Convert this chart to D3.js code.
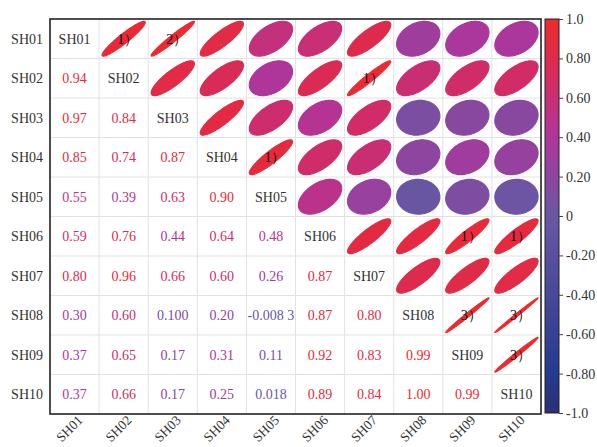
<!DOCTYPE html>
<html>
<head>
<meta charset="utf-8">
<script src="https://cdn.jsdelivr.net/npm/d3@7"></script>
<style>
  body { margin: 0; background: #fff; }
  text { font-family: "Liberation Serif", "Times New Roman", serif; }
</style>
</head>
<body>
<div id="chart"></div>
<script>
const W = 597, H = 447;
const marginLeft = 50, marginTop = 19, plotRight = 541, plotBottom = 414;

const names = ["SH01", "SH02", "SH03", "SH04", "SH05", "SH06", "SH07", "SH08", "SH09", "SH10"];

// lower triangle, row i has i values (columns 0..i-1)
const corrRows = [
  [],
  [0.94],
  [0.97, 0.84],
  [0.85, 0.74, 0.87],
  [0.55, 0.39, 0.63, 0.90],
  [0.59, 0.76, 0.44, 0.64, 0.48],
  [0.80, 0.96, 0.66, 0.60, 0.26, 0.87],
  [0.30, 0.60, 0.100, 0.20, -0.0083, 0.87, 0.80],
  [0.37, 0.65, 0.17, 0.31, 0.11, 0.92, 0.83, 0.99],
  [0.37, 0.66, 0.17, 0.25, 0.018, 0.89, 0.84, 1.00, 0.99]
];
const corrText = [
  [],
  ["0.94"],
  ["0.97", "0.84"],
  ["0.85", "0.74", "0.87"],
  ["0.55", "0.39", "0.63", "0.90"],
  ["0.59", "0.76", "0.44", "0.64", "0.48"],
  ["0.80", "0.96", "0.66", "0.60", "0.26", "0.87"],
  ["0.30", "0.60", "0.100", "0.20", "-0.008 3", "0.87", "0.80"],
  ["0.37", "0.65", "0.17", "0.31", "0.11", "0.92", "0.83", "0.99"],
  ["0.37", "0.66", "0.17", "0.25", "0.018", "0.89", "0.84", "1.00", "0.99"]
];

// group marks written over some ellipses: [row, col, text]
const groupMarks = [
  [0, 1, "1）"], [0, 2, "2）"], [1, 6, "1）"], [3, 4, "1）"],
  [5, 8, "1）"], [5, 9, "1）"], [7, 8, "3）"], [7, 9, "3）"], [8, 9, "3）"]
];

const colorStops = [-1, -0.8, 0, 0.4, 0.7, 1];
const colorRange = ["#2b2f77", "#243b90", "#6a56a3", "#b0359b", "#d62b5e", "#ee2a2c"];
const cbTicks = [1, 0.8, 0.6, 0.4, 0.2, 0, -0.2, -0.4, -0.6, -0.8, -1];
const cbTickLabels = ["1.0", "0.80", "0.60", "0.40", "0.20", "0", "-0.20", "-0.40", "-0.60", "-0.80", "-1.0"];

const svg = d3.select("#chart").append("svg")
  .attr("width", W)
  .attr("height", H);

const x = d3.scaleBand().domain(names).range([marginLeft, plotRight]);
const y = d3.scaleBand().domain(names).range([marginTop, plotBottom]);
const color = d3.scaleLinear().domain(colorStops).range(colorRange);

// grid
const grid = svg.append("g").attr("stroke", "#e2e2e2").attr("stroke-width", 1);
names.slice(1).forEach(n => {
  grid.append("line").attr("x1", x(n)).attr("x2", x(n)).attr("y1", marginTop).attr("y2", plotBottom);
  grid.append("line").attr("y1", y(n)).attr("y2", y(n)).attr("x1", marginLeft).attr("x2", plotRight);
});

// cells
const cells = [];
names.forEach((rn, i) => {
  names.forEach((cn, j) => {
    let r = null, label = null;
    if (j < i) { r = corrRows[i][j]; label = corrText[i][j]; }
    else if (j > i) { r = corrRows[j][i]; }
    cells.push({ i, j, rn, cn, r, label });
  });
});

const bw = x.bandwidth(), bh = y.bandwidth();
const ts = d3.range(0, 2 * Math.PI + 0.001, Math.PI / 60);

svg.selectAll(".ell")
  .data(cells.filter(d => d.j > d.i))
  .enter().append("path")
  .attr("class", "ell")
  .attr("fill", d => color(d.r))
  .attr("stroke", d => color(d.r))
  .attr("stroke-width", 1.2)
  .attr("d", d => {
    const cx = x(d.cn) + bw / 2, cy = y(d.rn) + bh / 2;
    const ex = d3.scaleLinear().domain([-1, 1]).range([cx - 0.44 * bw, cx + 0.44 * bw]);
    const ey = d3.scaleLinear().domain([-1, 1]).range([cy + 0.44 * bh, cy - 0.44 * bh]);
    const dd = Math.acos(Math.max(-0.995, Math.min(0.995, d.r)));
    return d3.line()
      .x(t => ex(Math.cos(t + dd / 2)))
      .y(t => ey(Math.cos(t - dd / 2)))(ts) + "Z";
  });

svg.selectAll(".val")
  .data(cells.filter(d => d.j < d.i))
  .enter().append("text")
  .attr("class", "val")
  .attr("x", d => x(d.cn) + bw / 2)
  .attr("y", d => y(d.rn) + bh / 2)
  .attr("dy", "0.35em")
  .attr("text-anchor", "middle")
  .attr("fill", d => color(d.r))
  .style("font-size", "14px")
  .text(d => d.label);

svg.selectAll(".diag")
  .data(names)
  .enter().append("text")
  .attr("class", "diag")
  .attr("x", d => x(d) + bw / 2)
  .attr("y", d => y(d) + bh / 2)
  .attr("dy", "0.35em")
  .attr("text-anchor", "middle")
  .attr("fill", "#333")
  .style("font-size", "14px")
  .text(d => d);

svg.selectAll(".mark")
  .data(groupMarks)
  .enter().append("text")
  .attr("class", "mark")
  .attr("x", d => x(names[d[1]]) + bw / 2 + 4)
  .attr("y", d => y(names[d[0]]) + bh / 2)
  .attr("dy", "0.35em")
  .attr("text-anchor", "middle")
  .attr("fill", "#111")
  .style("font-size", "14px")
  .text(d => d[2]);

// border
svg.append("rect")
  .attr("x", marginLeft).attr("y", marginTop)
  .attr("width", plotRight - marginLeft).attr("height", plotBottom - marginTop)
  .attr("fill", "none").attr("stroke", "#222").attr("stroke-width", 1.6);

// row labels
svg.selectAll(".ylab")
  .data(names)
  .enter().append("text")
  .attr("class", "ylab")
  .attr("x", marginLeft - 7)
  .attr("y", d => y(d) + bh / 2)
  .attr("dy", "0.35em")
  .attr("text-anchor", "end")
  .attr("fill", "#333")
  .style("font-size", "14px")
  .text(d => d);

// column labels
svg.selectAll(".xlab")
  .data(names)
  .enter().append("text")
  .attr("class", "xlab")
  .attr("transform", d => `translate(${x(d) + bw / 2 + 9},${plotBottom + 7}) rotate(-45)`)
  .attr("text-anchor", "end")
  .attr("fill", "#333")
  .style("font-size", "13.5px")
  .text(d => d);

// colorbar
const cbX = 545, cbW = 14, cbTop = 19, cbBottom = 413;
const cb = d3.scaleLinear().domain([-1, 1]).range([cbBottom, cbTop]);

const grad = svg.append("defs").append("linearGradient")
  .attr("id", "cbgrad").attr("x1", 0).attr("x2", 0).attr("y1", 1).attr("y2", 0);
grad.selectAll("stop")
  .data(d3.range(0, 21).map(k => -1 + k * 0.1))
  .enter().append("stop")
  .attr("offset", d => (d + 1) / 2)
  .attr("stop-color", d => color(d));

svg.append("rect")
  .attr("x", cbX).attr("y", cbTop)
  .attr("width", cbW).attr("height", cbBottom - cbTop)
  .attr("fill", "url(#cbgrad)")
  .attr("stroke", "#222").attr("stroke-width", 1);

const cbAxis = svg.append("g")
  .attr("transform", `translate(${cbX + cbW},0)`)
  .call(d3.axisRight(cb).tickValues(cbTicks).tickSize(4).tickPadding(3)
    .tickFormat((d, k) => cbTickLabels[k]));
cbAxis.select(".domain").remove();
cbAxis.selectAll("line").attr("stroke", "#444");
cbAxis.selectAll("text")
  .attr("fill", "#333")
  .style("font-size", "14px")
  .style("font-family", "Liberation Serif, Times New Roman, serif");
</script>
</body>
</html>
